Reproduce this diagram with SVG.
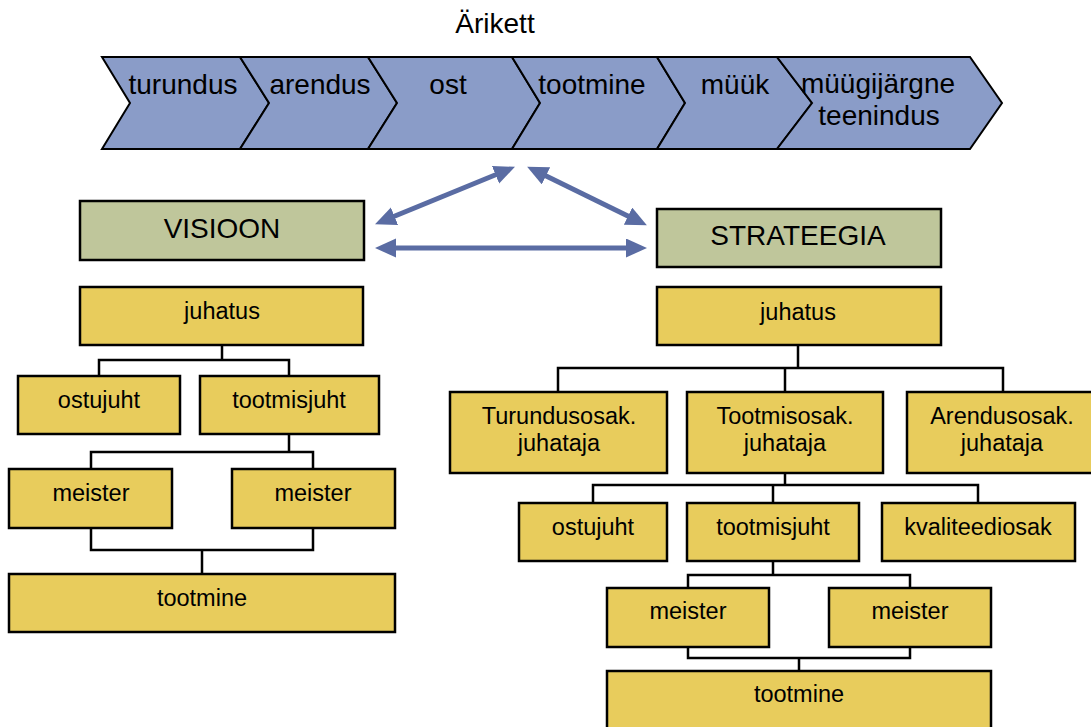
<svg xmlns="http://www.w3.org/2000/svg" width="1091" height="727" viewBox="0 0 1091 727">
<style>
text{font-family:"Liberation Sans",Arial,sans-serif;fill:#000;text-anchor:middle}
.chev{fill:#8A9CC8;stroke:#000;stroke-width:2;stroke-linejoin:miter}
.box{fill:#E8CC5C;stroke:#000;stroke-width:2.5}
.vbox{fill:#BFC69B;stroke:#000;stroke-width:2.5}
.t28{font-size:28px}
.t24{font-size:23.5px}
.con{fill:none;stroke:#000;stroke-width:2.5}
.arr{fill:none;stroke:#5A6CA3;stroke-width:5;marker-start:url(#ah);marker-end:url(#ah)}
</style>
<defs>
<marker id="ah" markerUnits="userSpaceOnUse" markerWidth="22" markerHeight="20" refX="10" refY="9.5" orient="auto-start-reverse">
<path d="M0,0 L21,9.5 L0,19 z" fill="#5A6CA3"/>
</marker>
</defs>
<rect width="1091" height="727" fill="#fff"/>
<text id="title" x="495" y="33" class="t28">Ärikett</text>
<g id="chevrons">
<g id="c1"><polygon class="chev" points="102,57 240,57 269,103 240,149 102,149 130,103"/><text x="183" y="94" class="t28">turundus</text></g>
<g id="c2"><polygon class="chev" points="240,57 368,57 397,103 368,149 240,149 269,103"/><text x="320" y="94" class="t28">arendus</text></g>
<g id="c3"><polygon class="chev" points="368,57 512,57 540,103 512,149 368,149 397,103"/><text x="448" y="94" class="t28">ost</text></g>
<g id="c4"><polygon class="chev" points="512,57 657,57 685,103 657,149 512,149 540,103"/><text x="592" y="94" class="t28">tootmine</text></g>
<g id="c5"><polygon class="chev" points="657,57 777,57 812,103 777,149 657,149 685,103"/><text x="735" y="94" class="t28">müük</text></g>
<g id="c6"><polygon class="chev" points="777,57 970,57 1002,103 970,149 777,149 812,103"/><text x="878" y="93" class="t28">müügijärgne</text><text x="879" y="125" class="t28">teenindus</text></g>
</g>
<g id="visioon"><rect class="vbox" x="80" y="201" width="284" height="59"/><text x="222" y="238" class="t28">VISIOON</text></g>
<g id="strateegia"><rect class="vbox" x="657" y="209" width="284" height="58"/><text x="798" y="245" class="t28">STRATEEGIA</text></g>
<g id="connectors">
<path class="arr" d="M385.2,220 L504.8,171"/>
<path class="arr" d="M537,171.5 L637,220.5"/>
<path class="arr" d="M386,248 L636,248"/>
<path class="con" d="M222,345 V360 M99,376 V360 H289 V376"/>
<path class="con" d="M289,434 V452 M91,469 V452 H313 V469"/>
<path class="con" d="M91,528 V550 H313 V528 M202,550 V574"/>
<path class="con" d="M798,345 V368 M558,392 V368 H1003 V392 M785,368 V392"/>
<path class="con" d="M785,473 V485 M593,503 V485 H978 V503 M773,485 V503"/>
<path class="con" d="M773,561 V575 M688,588 V575 H910 V588"/>
<path class="con" d="M688,647 V658 H910 V647 M799,658 V671"/>
</g>
<g id="l-juhatus"><rect class="box" x="80" y="287" width="283" height="58"/><text x="222" y="319" class="t24">juhatus</text></g>
<g id="l-ostujuht"><rect class="box" x="18" y="376" width="162" height="58"/><text x="99" y="408" class="t24">ostujuht</text></g>
<g id="l-tootmisjuht"><rect class="box" x="200" y="376" width="179" height="58"/><text x="289" y="408" class="t24">tootmisjuht</text></g>
<g id="l-meister1"><rect class="box" x="9" y="469" width="163" height="59"/><text x="91" y="501" class="t24">meister</text></g>
<g id="l-meister2"><rect class="box" x="232" y="469" width="163" height="59"/><text x="313" y="501" class="t24">meister</text></g>
<g id="l-tootmine"><rect class="box" x="9" y="574" width="386" height="58"/><text x="202" y="606" class="t24">tootmine</text></g>
<g id="r-juhatus"><rect class="box" x="657" y="287" width="284" height="58"/><text x="798" y="320" class="t24">juhatus</text></g>
<g id="r-turundus"><rect class="box" x="450" y="392" width="217" height="81"/><text x="559" y="424" class="t24">Turundusosak.</text><text x="559" y="451" class="t24">juhataja</text></g>
<g id="r-tootmisosak"><rect class="box" x="687" y="392" width="196" height="81"/><text x="785" y="424" class="t24">Tootmisosak.</text><text x="785" y="451" class="t24">juhataja</text></g>
<g id="r-arendus"><rect class="box" x="907" y="392" width="190" height="81"/><text x="1002" y="424" class="t24">Arendusosak.</text><text x="1002" y="451" class="t24">juhataja</text></g>
<g id="r-ostujuht"><rect class="box" x="519" y="503" width="148" height="58"/><text x="593" y="535" class="t24">ostujuht</text></g>
<g id="r-tootmisjuht"><rect class="box" x="687" y="503" width="172" height="58"/><text x="773" y="535" class="t24">tootmisjuht</text></g>
<g id="r-kvaliteediosak"><rect class="box" x="882" y="503" width="193" height="58"/><text x="978" y="535" class="t24">kvaliteediosak</text></g>
<g id="r-meister1"><rect class="box" x="607" y="588" width="162" height="59"/><text x="688" y="619" class="t24">meister</text></g>
<g id="r-meister2"><rect class="box" x="829" y="588" width="162" height="59"/><text x="910" y="619" class="t24">meister</text></g>
<g id="r-tootmine"><rect class="box" x="607" y="671" width="384" height="60"/><text x="799" y="702" class="t24">tootmine</text></g>
</svg>
